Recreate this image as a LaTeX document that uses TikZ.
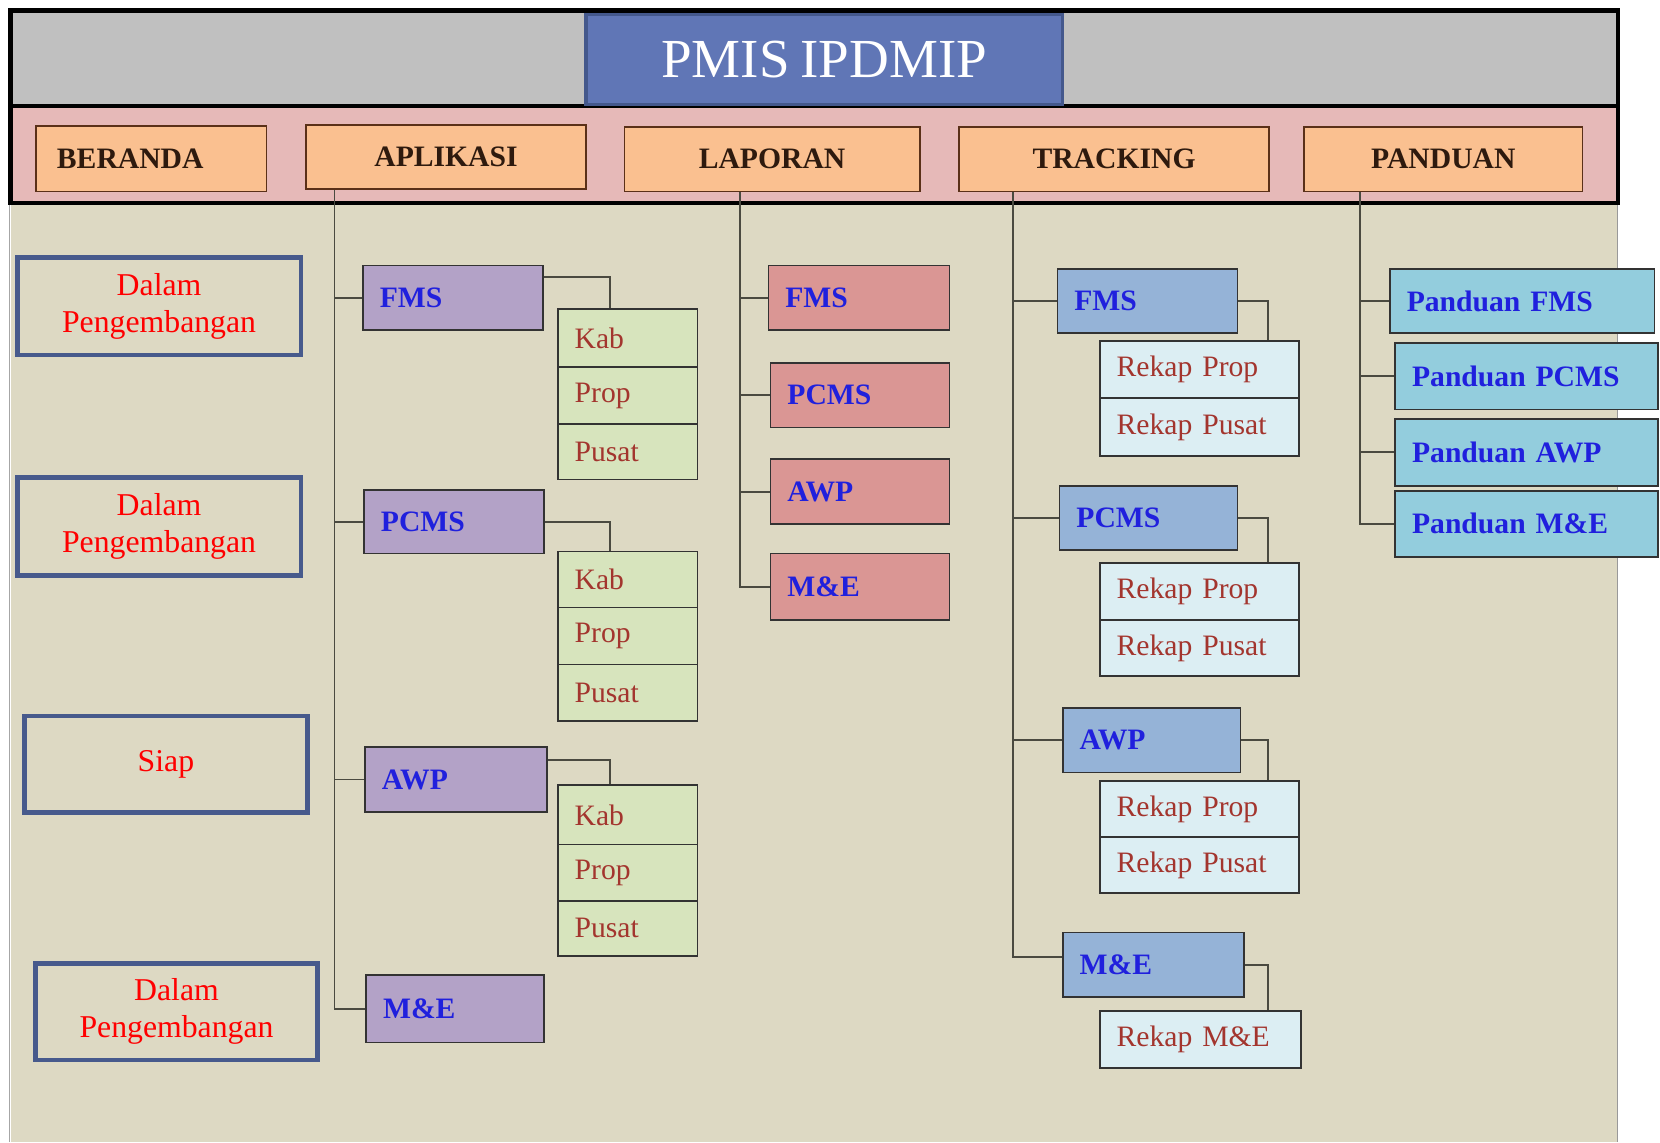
\documentclass[tikz,border=0pt]{standalone}
\usepackage{fontspec}
\setmainfont{Liberation Serif}
\definecolor{beige}{HTML}{DDD9C3}
\definecolor{headgray}{HTML}{C0C0C0}
\definecolor{pinkband}{HTML}{E6B9B8}
\definecolor{menuor}{HTML}{FAC090}
\definecolor{menubr}{HTML}{5A3018}
\definecolor{menutxt}{HTML}{2E1A0E}
\definecolor{titleblue}{HTML}{6076B6}
\definecolor{titlebd}{HTML}{44588C}
\definecolor{statbd}{HTML}{475A8C}
\definecolor{lav}{HTML}{B3A2C7}
\definecolor{rose}{HTML}{DA9694}
\definecolor{steel}{HTML}{95B3D7}
\definecolor{aqua}{HTML}{93CDDD}
\definecolor{lgreen}{HTML}{D7E4BD}
\definecolor{lcyan}{HTML}{DCEEF3}
\definecolor{txtblue}{HTML}{2020DD}
\definecolor{txtred}{HTML}{A3352E}
\definecolor{boxline}{HTML}{333333}
\definecolor{treeline}{HTML}{4A4A40}
\newcommand\mybox[7]{%
  \pgfmathsetmacro\bw{#4-#2}%
  \pgfmathsetmacro\bh{#5-#3}%
  \pgfmathsetmacro\tw{#4-#2-32}%
  \node[#6, anchor=north west, minimum width=\bw pt, minimum height=\bh pt, text width=\tw pt] (#1) at (#2,#3) {#7};%
}
\tikzset{
  tree/.style={draw=treeline, line width=1.8pt},
  base/.style={draw=boxline, line width=1.6pt, inner xsep=16pt, inner ysep=0pt},
  menu/.style={base, fill=menuor, draw=menubr, font=\fontsize{28}{32}\selectfont\bfseries, text=menutxt, align=center},
  titlebox/.style={fill=titleblue, draw=titlebd, line width=3pt, inner xsep=16pt, inner ysep=0pt, text=white, font=\fontsize{52}{56}\selectfont, align=center},
  stat/.style={draw=statbd, line width=4.5pt, inner xsep=16pt, inner ysep=0pt, text=red, font=\fontsize{30}{35}\selectfont, align=center},
  lvl/.style={base, font=\fontsize{28}{32}\selectfont\bfseries, text=txtblue, align=left},
  subb/.style={base, font=\fontsize{28}{32}\selectfont, text=txtred, align=left},
}
\begin{document}
\begin{tikzpicture}[x=1pt,y=-1pt]
\useasboundingbox (0,0) rectangle (1568,1079);
\fill[white] (0,0) rectangle (1568,1079);
% panels
\fill[beige] (10,192) rectangle (1528,1079);
\draw[gray!70, line width=1.5pt] (9,192) -- (9,1079);
\draw[gray!80, line width=1.2pt] (1528,192) -- (1528,1079);
\fill[headgray] (10,10) rectangle (1528,100);
\fill[pinkband] (10,100) rectangle (1528,192);
\draw[black, line width=4pt] (10,10) rectangle (1528,192);
\draw[black, line width=4pt] (10,100) -- (1528,100);
% title
\mybox{title}{552}{12}{1002}{97}{titlebox}{PMIS\hspace{0.2em}IPDMIP}
% menus
\mybox{mB}{33}{118}{251}{180}{menu, align=left}{\hspace*{4pt}BERANDA}
\mybox{mA}{288}{117}{553}{178}{menu}{APLIKASI}
\mybox{mL}{589}{119}{868}{180}{menu}{LAPORAN}
\mybox{mT}{905}{119}{1198}{180}{menu}{TRACKING}
\mybox{mP}{1231}{119}{1494}{180}{menu}{PANDUAN}
% status boxes
\mybox{s1}{14}{241}{282}{333}{stat}{Dalam\\Pengembangan}
\mybox{s2}{14}{449}{282}{541}{stat}{Dalam\\Pengembangan}
\mybox{s3}{21}{674}{288}{765}{stat}{Siap}
\mybox{s4}{31}{908}{298}{999}{stat}{Dalam\\Pengembangan}
% APLIKASI
\mybox{aF}{342}{250}{512}{311}{lvl, fill=lav}{FMS}
\mybox{aFk}{526}{291}{658}{346}{subb, fill=lgreen}{Kab}
\mybox{aFp}{526}{346}{658}{400}{subb, fill=lgreen}{Prop}
\mybox{aFs}{526}{400}{658}{452}{subb, fill=lgreen}{Pusat}
\mybox{aP}{343}{462}{513}{522}{lvl, fill=lav}{PCMS}
\mybox{aPk}{526}{520}{658}{573}{subb, fill=lgreen}{Kab}
\mybox{aPp}{526}{573}{658}{627}{subb, fill=lgreen}{Prop}
\mybox{aPs}{526}{627}{658}{680}{subb, fill=lgreen}{Pusat}
\mybox{aA}{344}{705}{516}{766}{lvl, fill=lav}{AWP}
\mybox{aAk}{526}{741}{658}{797}{subb, fill=lgreen}{Kab}
\mybox{aAp}{526}{797}{658}{850}{subb, fill=lgreen}{Prop}
\mybox{aAs}{526}{850}{658}{902}{subb, fill=lgreen}{Pusat}
\mybox{aM}{345}{920}{513}{984}{lvl, fill=lav}{M\&E}
% LAPORAN
\mybox{lF}{725}{250}{896}{311}{lvl, fill=rose}{FMS}
\mybox{lP}{727}{342}{896}{403}{lvl, fill=rose}{PCMS}
\mybox{lA}{727}{433}{896}{494}{lvl, fill=rose}{AWP}
\mybox{lM}{727}{522}{896}{585}{lvl, fill=rose}{M\&E}
% TRACKING
\mybox{tF}{998}{253}{1168}{314}{lvl, fill=steel}{FMS}
\mybox{tFr}{1038}{321}{1226}{375}{subb, fill=lcyan}{Rekap Prop}
\mybox{tFs}{1038}{375}{1226}{430}{subb, fill=lcyan}{Rekap Pusat}
\mybox{tP}{1000}{458}{1168}{519}{lvl, fill=steel}{PCMS}
\mybox{tPr}{1038}{531}{1226}{585}{subb, fill=lcyan}{Rekap Prop}
\mybox{tPs}{1038}{585}{1226}{638}{subb, fill=lcyan}{Rekap Pusat}
\mybox{tA}{1003}{668}{1171}{729}{lvl, fill=steel}{AWP}
\mybox{tAr}{1038}{737}{1226}{790}{subb, fill=lcyan}{Rekap Prop}
\mybox{tAs}{1038}{790}{1226}{843}{subb, fill=lcyan}{Rekap Pusat}
\mybox{tM}{1003}{880}{1174}{941}{lvl, fill=steel}{M\&E}
\mybox{tMr}{1038}{954}{1228}{1008}{subb, fill=lcyan}{Rekap M\&E}
% PANDUAN
\mybox{pF}{1312}{253}{1562}{314}{lvl, fill=aqua}{Panduan FMS}
\mybox{pP}{1317}{323}{1565}{386}{lvl, fill=aqua}{Panduan PCMS}
\mybox{pA}{1317}{395}{1565}{458}{lvl, fill=aqua}{Panduan AWP}
\mybox{pM}{1317}{463}{1565}{525}{lvl, fill=aqua}{Panduan M\&E}
% connectors APLIKASI
\coordinate (aT) at ([xshift=28pt]mA.south west);
\draw[tree] (aT) |- (aM.west);
\foreach \n in {aF,aP,aA} \draw[tree] (aT |- \n.west) -- (\n.west);
\draw[tree] ([yshift=-12pt]aF.north east) -| ([xshift=50pt]aFk.north west);
\draw[tree] (aP.east) -| ([xshift=50pt]aPk.north west);
\draw[tree] ([yshift=-13pt]aA.north east) -| ([xshift=50pt]aAk.north west);
% connectors LAPORAN
\coordinate (lT) at ([xshift=110pt]mL.south west);
\draw[tree] (lT) |- (lM.west);
\foreach \n in {lF,lP,lA} \draw[tree] (lT |- \n.west) -- (\n.west);
% connectors TRACKING
\coordinate (tT) at ([xshift=52pt]mT.south west);
\draw[tree] (tT) |- ([yshift=7pt]tM.west);
\foreach \n in {tF,tP,tA} \draw[tree] (tT |- \n.west) -- (\n.west);
\draw[tree] (tF.east) -| ([xshift=160pt]tFr.north west);
\draw[tree] (tP.east) -| ([xshift=160pt]tPr.north west);
\draw[tree] (tA.east) -| ([xshift=160pt]tAr.north west);
\draw[tree] (tM.east) -| ([xshift=160pt]tMr.north west);
% connectors PANDUAN
\coordinate (pT) at ([xshift=54pt]mP.south west);
\draw[tree] (pT) |- (pM.west);
\foreach \n in {pF,pP,pA} \draw[tree] (pT |- \n.west) -- (\n.west);
\end{tikzpicture}
\end{document}
